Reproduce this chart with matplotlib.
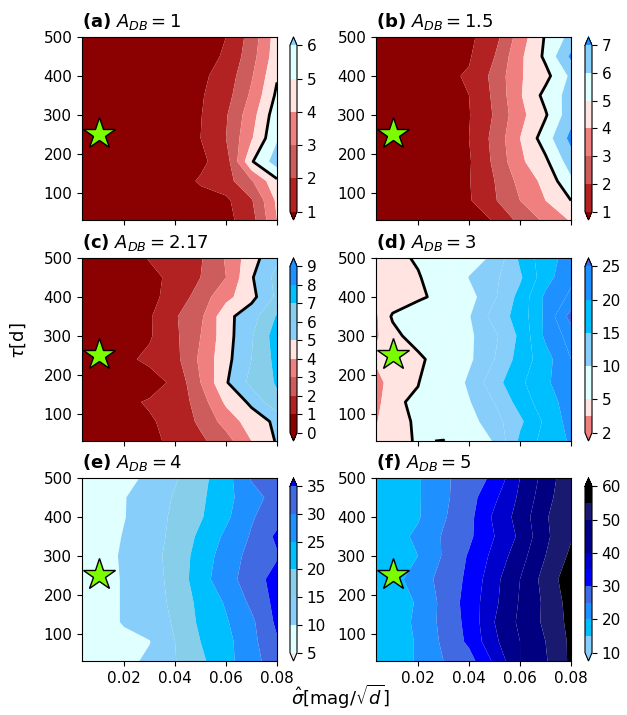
import numpy as np
import matplotlib
matplotlib.use('Agg')
import matplotlib.pyplot as plt

# grid: sigma_hat (x) and tau (y)
sigma = [0.0035, 0.01, 0.02, 0.03, 0.04, 0.05, 0.06, 0.07, 0.08]
tau = [30, 80, 130, 180, 240, 300, 350, 400, 450, 500]

# rows follow tau, columns follow sigma
z_a = [
    [0.2, 0.2, 0.3, 0.4, 0.5, 0.7, 0.7, 1.6, 4.0],
    [0.2, 0.2, 0.3, 0.4, 0.5, 0.7, 0.8, 1.9, 4.2],
    [0.2, 0.2, 0.3, 0.4, 0.6, 1.1, 1.6, 2.9, 4.8],
    [0.2, 0.2, 0.3, 0.4, 0.6, 0.8, 1.5, 4.9, 6.5],
    [0.2, 0.2, 0.3, 0.4, 0.6, 1.0, 2.0, 3.9, 5.9],
    [0.2, 0.2, 0.3, 0.4, 0.6, 0.95, 1.9, 3.6, 5.6],
    [0.2, 0.2, 0.3, 0.4, 0.6, 0.9, 1.6, 3.2, 5.2],
    [0.2, 0.2, 0.3, 0.4, 0.6, 0.8, 1.4, 2.9, 4.9],
    [0.2, 0.2, 0.3, 0.4, 0.5, 0.7, 1.1, 2.6, 4.6],
    [0.2, 0.2, 0.3, 0.4, 0.5, 0.7, 1.0, 2.4, 4.5],
]
z_b = [
    [0.2, 0.2, 0.3, 0.5, 0.7, 1.05, 2.3, 3.2, 4.1],
    [0.2, 0.2, 0.3, 0.6, 0.9, 1.9, 3.0, 4.0, 5.0],
    [0.2, 0.2, 0.3, 0.6, 0.95, 2.0, 3.3, 4.3, 5.8],
    [0.2, 0.2, 0.3, 0.6, 0.9, 2.2, 3.8, 4.8, 6.5],
    [0.2, 0.2, 0.3, 0.6, 1.0, 2.3, 4.0, 5.5, 7.3],
    [0.2, 0.2, 0.3, 0.6, 0.95, 2.1, 3.7, 4.9, 6.6],
    [0.2, 0.2, 0.3, 0.7, 1.0, 2.2, 3.9, 5.3, 6.4],
    [0.2, 0.2, 0.3, 0.8, 1.1, 2.3, 3.9, 4.7, 6.2],
    [0.2, 0.2, 0.3, 0.6, 0.9, 2.0, 3.8, 5.2, 7.2],
    [0.2, 0.2, 0.3, 0.5, 0.8, 1.6, 3.5, 5.1, 6.3],
]
z_c = [
    [0.2, 0.3, 0.5, 0.8, 1.2, 1.8, 2.6, 4.0, 5.1],
    [0.2, 0.3, 0.5, 0.9, 1.3, 2.2, 3.4, 4.5, 5.2],
    [0.2, 0.4, 0.8, 1.1, 1.3, 2.5, 4.2, 5.2, 6.8],
    [0.2, 0.3, 0.5, 0.6, 1.2, 3.0, 4.9, 6.3, 7.1],
    [0.2, 0.3, 0.8, 1.2, 1.7, 3.2, 4.7, 6.0, 7.3],
    [0.2, 0.3, 0.6, 0.9, 1.8, 3.0, 4.6, 5.9, 7.5],
    [0.2, 0.3, 0.5, 0.9, 1.9, 2.8, 4.7, 5.6, 7.1],
    [0.2, 0.3, 0.5, 0.8, 1.3, 2.5, 3.7, 4.7, 6.2],
    [0.2, 0.3, 0.5, 0.8, 1.2, 2.0, 3.0, 4.9, 6.3],
    [0.2, 0.3, 0.6, 1.05, 1.4, 1.9, 3.1, 4.6, 5.8],
]
z_d = [
    [3.8, 4.3, 5.2, 4.9, 8.2, 10.2, 15.5, 18.5, 20.3],
    [3.4, 4.5, 5.2, 7.0, 9.0, 11.5, 14.5, 18.0, 21.0],
    [3.0, 4.6, 5.4, 7.2, 9.8, 12.6, 16.0, 19.0, 21.0],
    [2.8, 4.3, 4.9, 7.5, 10.5, 14.0, 17.0, 19.5, 22.0],
    [3.8, 4.0, 4.6, 6.0, 9.5, 12.5, 16.0, 19.0, 22.5],
    [3.3, 4.5, 5.8, 7.0, 9.5, 12.0, 15.5, 20.5, 23.5],
    [3.3, 5.2, 6.5, 8.0, 9.8, 13.5, 16.0, 20.5, 26.0],
    [3.8, 4.0, 4.6, 5.7, 9.0, 12.2, 15.8, 20.5, 23.0],
    [3.8, 4.2, 4.8, 6.5, 10.1, 12.0, 14.6, 19.0, 22.0],
    [3.9, 4.3, 5.3, 7.0, 8.8, 10.5, 15.5, 19.0, 21.0],
]
z_e = [
    [6, 7, 8.5, 11, 14.8, 19, 23.5, 28, 33],
    [6, 7, 8.5, 9.8, 15, 20, 23.5, 28.5, 34.5],
    [6, 7.5, 10.5, 12.5, 15.5, 21, 24.5, 29, 36],
    [6, 7.5, 10.5, 13, 16, 21.5, 25.5, 31, 36.5],
    [6, 7.5, 10.5, 13, 16.5, 23, 28, 32.5, 37],
    [6, 7.5, 10.8, 13, 17, 22, 27.5, 31.5, 34.5],
    [6, 7.5, 10.3, 12.5, 16.5, 21, 26, 30.5, 36],
    [6, 7, 9.8, 12.5, 16, 19.5, 24, 29.5, 33],
    [6, 7, 9.8, 12, 15.5, 19, 23.5, 28, 32],
    [6, 7, 8.5, 11, 14.5, 18.5, 23, 30.5, 31],
]
z_f = [
    [16, 17.5, 20.5, 25, 28, 36, 45, 49.5, 56],
    [16, 17.5, 20.5, 26, 31, 39, 45, 50, 56],
    [16, 17.5, 21, 26.5, 31.5, 40, 46, 51, 56.5],
    [16, 17.5, 20.5, 26.5, 32, 39, 45.5, 51, 57],
    [16, 18.5, 22, 27, 31, 38.5, 45, 52, 58],
    [16, 17.5, 20.0, 25.5, 30.5, 36.5, 43, 50, 56],
    [16, 18, 21, 25.5, 29, 35, 41, 49, 54.5],
    [16, 17.5, 19.5, 24.5, 28.5, 36, 42, 49.5, 54],
    [16, 17.5, 19.5, 24, 28, 34, 41, 48, 54.5],
    [16, 17.5, 19.5, 24, 27.5, 31, 40, 47, 54],
]

a_db = ['1', '1.5', '2.17', '3', '4', '5']
panel_tags = ['a', 'b', 'c', 'd', 'e', 'f']

levels_a = [1, 2, 3, 4, 5, 6]
levels_b = [1, 2, 3, 4, 5, 6, 7]
levels_c = [0, 1, 2, 3, 4, 5, 6, 7, 8, 9]
levels_d = [2, 3.5, 5, 7.5, 10, 12.5, 15, 17.5, 20, 22.5, 25]
levels_e = [5, 10, 15, 20, 25, 30, 35]
levels_f = [10, 15, 20, 25, 30, 35, 40, 45, 50, 55, 60]

ticks_a = [1, 2, 3, 4, 5, 6]
ticks_b = [1, 2, 3, 4, 5, 6, 7]
ticks_c = [0, 1, 2, 3, 4, 5, 6, 7, 8, 9]
ticks_d = [2, 5, 10, 15, 20, 25]
ticks_e = [5, 10, 15, 20, 25, 30, 35]
ticks_f = [10, 20, 30, 40, 50, 60]

star_x, star_y = 0.01, 250

# colours (under, bands..., over)
col_a = ['darkred', 'firebrick', 'indianred', 'lightcoral', 'mistyrose', 'lightcyan', 'lightskyblue']
col_b = ['darkred', 'firebrick', 'indianred', 'lightcoral', 'mistyrose', 'lightcyan', 'lightskyblue', 'dodgerblue']
col_c = ['darkred', 'darkred', 'firebrick', 'indianred', 'lightcoral', 'mistyrose',
         'lightskyblue', 'skyblue', 'deepskyblue', 'dodgerblue', 'dodgerblue']
col_d = ['lightcoral', 'lightcoral', 'mistyrose', 'lightcyan', 'lightcyan', 'lightskyblue',
         'lightskyblue', 'deepskyblue', 'deepskyblue', 'dodgerblue', 'dodgerblue', 'royalblue']
col_e = ['mistyrose', 'lightcyan', 'lightskyblue', 'skyblue', 'deepskyblue', 'dodgerblue', 'royalblue', 'blue']
col_f = ['lightskyblue', 'lightskyblue', 'deepskyblue', 'dodgerblue', 'royalblue', 'blue',
         'mediumblue', 'darkblue', 'navy', 'midnightblue', 'black', 'black']

panels = [
    (z_a, levels_a, ticks_a, col_a),
    (z_b, levels_b, ticks_b, col_b),
    (z_c, levels_c, ticks_c, col_c),
    (z_d, levels_d, ticks_d, col_d),
    (z_e, levels_e, ticks_e, col_e),
    (z_f, levels_f, ticks_f, col_f),
]

fig = plt.figure(figsize=(6.27, 7.15), dpi=100)

ax_left = [0.1308, 0.5997]
cb_left = [0.4625, 0.9330]
row_bottom = [0.6923, 0.3832, 0.0755]
w, h = 0.311, 0.256

X, Y = np.meshgrid(sigma, tau)

for k, (z, lev, tks, cols) in enumerate(panels):
    r, c = divmod(k, 2)
    ax = fig.add_axes([ax_left[c], row_bottom[r], w, h])
    cax = fig.add_axes([cb_left[c], row_bottom[r], 0.0112, h])
    Z = np.array(z, dtype=float)
    cs = ax.contourf(X, Y, Z, levels=lev, colors=cols, extend='both', antialiased=True)
    ax.contour(X, Y, Z, levels=[5], colors='k', linewidths=2)
    ax.plot(star_x, star_y, marker='*', ms=24, mfc='lawngreen', mec='k', mew=1)
    ax.set_xticks([0.02, 0.04, 0.06, 0.08])
    ax.set_yticks([100, 200, 300, 400, 500])
    if r < 2:
        ax.set_xticklabels([])
    else:
        ax.set_xticklabels(['0.02', '0.04', '0.06', '0.08'])
    ax.tick_params(labelsize=11)
    ax.set_title(r'$\mathbf{(' + panel_tags[k] + r')}$ $A_{DB} = ' + a_db[k] + '$',
                 loc='left', fontsize=13, pad=7)
    cb = fig.colorbar(cs, cax=cax, ticks=tks)
    cb.ax.tick_params(labelsize=11)

fig.text(0.029, 0.524, r'$\tau$[d]', rotation=90, fontsize=13, ha='center', va='center')
fig.text(0.543, 0.005, r'$\hat{\sigma}$[mag/$\sqrt{d}$]', fontsize=13, ha='center', va='bottom')

fig.savefig('out.png', dpi=100)
